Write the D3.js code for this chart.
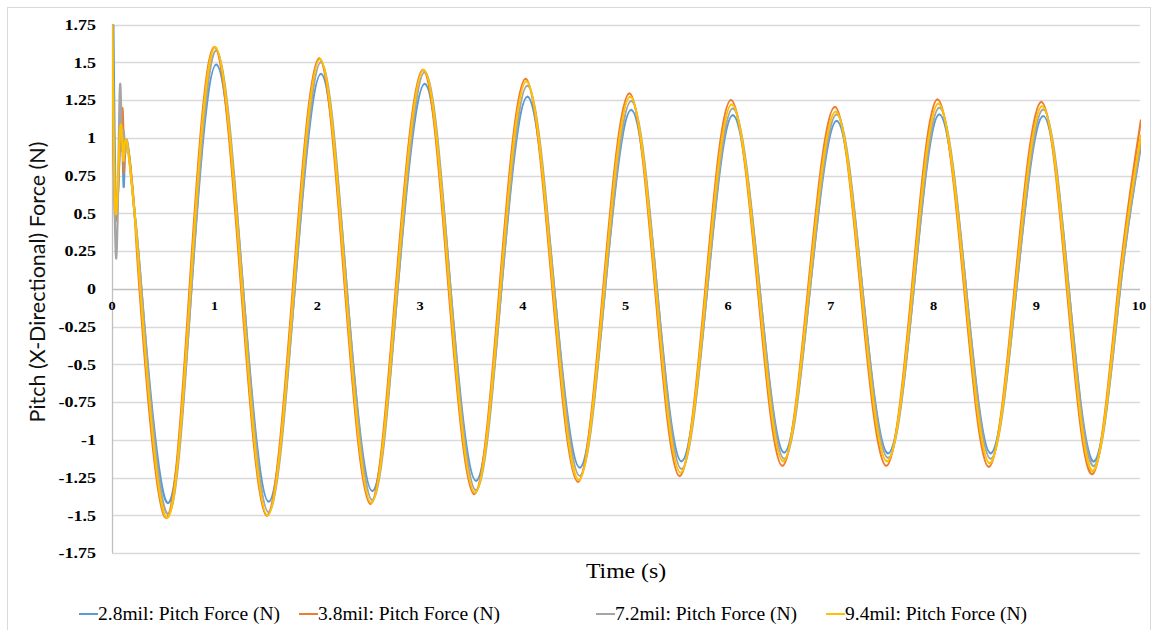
<!DOCTYPE html>
<html lang="en">
    <head>
        <meta charset="utf-8">
        <title>Pitch Force</title>
        <script src="https://d3js.org/d3.v7.min.js"></script>
        <style type="text/css">
            body { margin: 0; background: #fff; }
            .tick-y, .tick-x { font-family: "Liberation Serif", "Times New Roman", serif; font-weight: bold; fill: #000; }
            .legend text { font-family: "Liberation Serif", "Times New Roman", serif; fill: #000; }
        </style>
    </head>
    <body>
        <script type="text/javascript">

            // series names + colours
            var names = ["2.8mil: Pitch Force (N)", "3.8mil: Pitch Force (N)", "7.2mil: Pitch Force (N)", "9.4mil: Pitch Force (N)"];
            var colors = ["#5B9BD5", "#ED7D31", "#A5A5A5", "#FFC000"];

            // axis ticks
            var yTicks = [1.75, 1.5, 1.25, 1, 0.75, 0.5, 0.25, 0, -0.25, -0.5, -0.75, -1, -1.25, -1.5, -1.75];
            var xTicks = [0, 1, 2, 3, 4, 5, 6, 7, 8, 9, 10];

            // times (s) for the cycle extremes and zero crossings
            var downCrossT = [0.28, 1.27, 2.28, 3.29, 4.30, 5.30, 6.30, 7.30, 8.31, 9.31];
            var troughT = [0.526, 1.52, 2.53, 3.54, 4.55, 5.54, 6.54, 7.55, 8.55, 9.56];
            var upCrossT = [0.767, 1.773, 2.775, 3.785, 4.795, 5.79, 6.79, 7.80, 8.80, 9.81];
            var peakT = [1.01, 2.03, 3.04, 4.04, 5.05, 6.04, 7.05, 8.05, 9.06];
            var endT = 10.02;

            // start-up transient (t, value) per series
            var transT = [
                [0, 0.012, 0.04, 0.085, 0.113, 0.14, 0.22],
                [0, 0.035, 0.095, 0.115, 0.14, 0.22],
                [0, 0.042, 0.075, 0.095, 0.11, 0.13, 0.15, 0.22],
                [0, 0.035, 0.08, 0.11, 0.14, 0.22]
            ];
            var transV = [
                [1.28, 1.8, 0.5, 1.1, 0.68, 0.97, 0.5],
                [1.9, 0.45, 1.18, 0.78, 0.98, 0.5],
                [1.9, 0.2, 1.3, 0.95, 1.05, 0.9, 0.97, 0.5],
                [1.9, 0.5, 1.06, 0.85, 0.98, 0.5]
            ];

            // peak / trough values per series
            var peaks = [
                [1.485, 1.423, 1.356, 1.272, 1.184, 1.15, 1.111, 1.155, 1.144],
                [1.60, 1.525, 1.449, 1.39, 1.294, 1.25, 1.204, 1.254, 1.237],
                [1.577, 1.50, 1.434, 1.345, 1.245, 1.195, 1.155, 1.199, 1.188],
                [1.60, 1.52, 1.449, 1.374, 1.272, 1.221, 1.173, 1.226, 1.21]
            ];
            var troughs = [
                [-1.413, -1.41, -1.34, -1.272, -1.185, -1.143, -1.086, -1.09, -1.09, -1.143],
                [-1.511, -1.502, -1.424, -1.36, -1.279, -1.241, -1.173, -1.173, -1.18, -1.227],
                [-1.485, -1.48, -1.40, -1.335, -1.24, -1.195, -1.127, -1.12, -1.127, -1.173],
                [-1.511, -1.502, -1.417, -1.35, -1.268, -1.218, -1.143, -1.143, -1.155, -1.205]
            ];
            var endV = [0.95, 1.12, 0.97, 1.02];
            // small phase offset (s) of each series
            var shift = [0.006, -0.012, 0.006, -0.004];

            var svg = d3.select("body").append("svg")
                .attr("width", 1157)
                .attr("height", 630);

            // outer chart border
            svg.append("rect")
                .attr("x", 7.5).attr("y", 7.5)
                .attr("width", 1143).attr("height", 640)
                .attr("fill", "none")
                .attr("stroke", "#d9d9d9");

            var plotL = 112, plotR = 1140, plotT = 24.5, plotB = 553;

            var xScale = d3.scaleLinear().domain([0, 10]).range([plotL, 1139]);
            var yScale = d3.scaleLinear().domain([-1.75, 1.75]).range([plotB, plotT]);

            // horizontal gridlines
            svg.append("g").selectAll("line")
                .data(yTicks)
                .enter().append("line")
                .attr("x1", plotL).attr("x2", plotR)
                .attr("y1", function(d) { return Math.round(yScale(d)) + 0.5; })
                .attr("y2", function(d) { return Math.round(yScale(d)) + 0.5; })
                .attr("stroke", function(d) { return d === 0 ? "#bfbfbf" : "#d9d9d9"; })
                .attr("stroke-width", 1.3);

            // left axis line
            svg.append("line")
                .attr("x1", plotL + 0.5).attr("x2", plotL + 0.5)
                .attr("y1", plotT).attr("y2", plotB)
                .attr("stroke", "#bfbfbf")
                .attr("stroke-width", 1.3);

            // y tick labels (the source text is a bit stretched sideways)
            svg.append("g").selectAll("text")
                .data(yTicks)
                .enter().append("text")
                .attr("class", "tick-y")
                .attr("transform", function(d) { return "translate(96," + yScale(d) + ") scale(1.2,1)"; })
                .attr("dy", "0.35em")
                .attr("text-anchor", "end")
                .style("font-size", "15px")
                .text(function(d) { return d; });

            // x tick labels sit under the zero line
            svg.append("g").selectAll("text")
                .data(xTicks)
                .enter().append("text")
                .attr("class", "tick-x")
                .attr("transform", function(d) { return "translate(" + xScale(d) + ",309.5) scale(1.15,1)"; })
                .attr("text-anchor", "middle")
                .style("font-size", "12.5px")
                .text(function(d) { return d; });

            // axis titles
            svg.append("text")
                .attr("transform", "translate(45,282) rotate(-90)")
                .attr("text-anchor", "middle")
                .style("font-family", "Lato, 'Open Sans', sans-serif")
                .style("font-size", "21.5px")
                .style("fill", "#111")
                .text("Pitch (X-Directional) Force (N)");

            svg.append("text")
                .attr("transform", "translate(626,578) scale(1.08,1)")
                .attr("text-anchor", "middle")
                .style("font-family", "'Liberation Serif', 'Times New Roman', serif")
                .style("font-size", "22px")
                .style("fill", "#000")
                .text("Time (s)");

            // build each series from the read-off values
            function seriesPoints(i) {
                var pts = [];
                transT[i].forEach(function(t, k) { pts.push([t, transV[i][k]]); });
                var s = shift[i];
                for (var c = 0; c < troughT.length; c++) {
                    pts.push([downCrossT[c] + s, 0]);
                    pts.push([troughT[c] + s, troughs[i][c]]);
                    pts.push([upCrossT[c] + s, 0]);
                    if (c < peakT.length) pts.push([peakT[c] + s, peaks[i][c]]);
                }
                pts.push([endT, endV[i]]);
                return pts;
            }

            svg.append("clipPath").attr("id", "plot-clip")
                .append("rect")
                .attr("x", plotL).attr("y", plotT)
                .attr("width", plotR - plotL + 1).attr("height", plotB - plotT);

            var line = d3.line()
                .x(function(d) { return xScale(d[0]); })
                .y(function(d) { return yScale(d[1]); })
                .curve(d3.curveNatural);

            svg.append("g")
                .attr("clip-path", "url(#plot-clip)")
                .selectAll("path")
                .data(names.map(function(n, i) { return seriesPoints(i); }))
                .enter().append("path")
                .attr("d", line)
                .attr("fill", "none")
                .attr("stroke", function(d, i) { return colors[i]; })
                .attr("stroke-width", 2.25)
                .attr("stroke-linejoin", "round");

            // legend
            var legendX = [79, 299, 596, 826];
            var legend = svg.append("g").attr("class", "legend")
                .selectAll("g")
                .data(names)
                .enter().append("g")
                .attr("transform", function(d, i) { return "translate(" + legendX[i] + ",614)"; });

            legend.append("line")
                .attr("x1", 0).attr("x2", 19)
                .attr("y1", 0).attr("y2", 0)
                .attr("stroke", function(d, i) { return colors[i]; })
                .attr("stroke-width", 2);

            legend.append("text")
                .attr("x", 19)
                .attr("y", 6)
                .style("font-size", "19.5px")
                .text(function(d) { return d; });

        </script>
    </body>
</html>
